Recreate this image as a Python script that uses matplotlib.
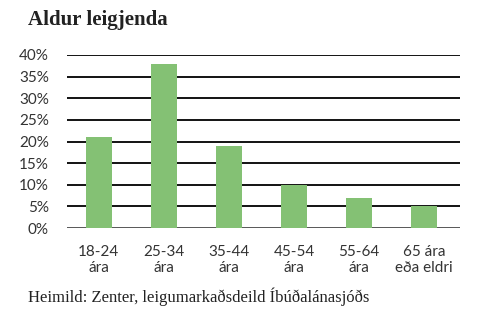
import matplotlib
matplotlib.use("Agg")
import matplotlib.pyplot as plt  # noqa
import numpy as np

categories = ["18-24\nára", "25-34\nára", "35-44\nára",
              "45-54\nára", "55-64\nára", "65 ára\neða eldri"]
values = [21, 38, 19, 10, 7, 5]
yticks = [0, 5, 10, 15, 20, 25, 30, 35, 40]

fig = plt.figure(figsize=(4.92, 3.31), dpi=100)
ax = fig.add_axes([67/492, 1 - 228/331, (460 - 67)/492, (228 - 55)/331])

x = np.arange(len(categories))
ax.bar(x, values, width=0.4, color="#84c174", zorder=3)

# Horizontal rules
for v in yticks:
    ax.axhline(v, color="#4a4a4a" if v == 0 else "black", lw=1.3, zorder=2)

ax.set_xlim(-0.49, 5.55)
ax.set_ylim(0, 40)
ax.set_yticks(yticks)
ax.set_yticklabels([f"{v}%" for v in yticks], fontsize=11, color="#333333",
                   family="Lato")
ax.set_xticks(x)
ax.set_xticklabels(categories, fontsize=11, color="#333333", linespacing=1.2,
                   family="Lato")
ax.tick_params(axis="y", length=0, pad=13)
ax.tick_params(axis="x", length=0, pad=12)
for s in ax.spines.values():
    s.set_visible(False)

fig.text(28/492, 1 - 20/331, "Aldur leigjenda", fontsize=15, fontweight="bold",
         family="Liberation Serif", color="#222222", va="center", ha="left")
fig.text(28/492, 1 - 297/331, "Heimild: Zenter, leigumarkaðsdeild Íbúðalánasjóðs",
         fontsize=12, family="Liberation Serif", color="#222222",
         va="center", ha="left")

fig.savefig("out.png", dpi=100)
